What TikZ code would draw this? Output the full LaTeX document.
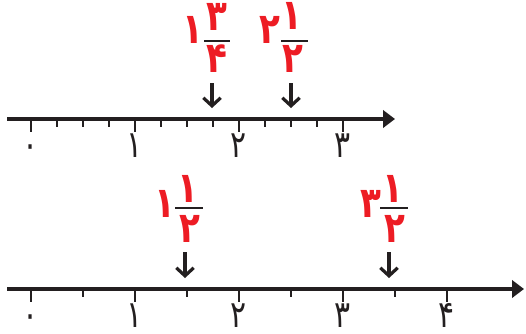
\documentclass[tikz,border=0pt]{standalone}
\usepackage{fontspec}
\usetikzlibrary{arrows.meta}
\newfontfamily\farsi[Script=Arabic,FakeStretch=0.8]{DejaVu Sans}
\definecolor{mixred}{RGB}{237,28,36}
\definecolor{inkgray}{RGB}{35,31,32}
\tikzset{
  axisline/.style={draw=inkgray,line width=3pt,-{Triangle[length=9pt,width=13pt]}},
  majortick/.style={draw=inkgray,line width=2pt},
  minortick/.style={draw=inkgray,line width=1.8pt},
  numlabel/.style={inner sep=0pt,anchor=base,text height=0.5em,text depth=0pt,text=inkgray,font=\farsi\fontsize{28}{28}\selectfont},
  mixdigit/.style={inner sep=0pt,anchor=base,text height=0.5em,text depth=0pt,text=mixred,font=\farsi\bfseries\fontsize{32}{32}\selectfont},
  fracbar/.style={draw=inkgray,line width=1.5pt},
  pointer/.style={draw=inkgray,line width=2.4pt,-{Straight Barb[length=6pt,width=13pt]}}
}
\begin{document}
\begin{tikzpicture}[x=0.75pt,y=-0.75pt]
\useasboundingbox (0,0) rectangle (526,333);
% upper number line, quarters
\coordinate (ua) at (7,119);
\coordinate (ub) at (395,119);
\draw[axisline] (ua) -- (ub);
\foreach \i in {0,...,12} \draw[minortick] ({31+26*\i},119) -- ++(0,8);
\foreach \n/\d in {0/۰,1/۱,2/۲,3/۳}{
  \draw[majortick] ({31+104*\n},119) -- ++(0,13);
  \node[numlabel] (u\n) at ({31+104*\n},157) {\d};
}
% 1 3/4
\node[mixdigit] (aw) at (193,43) {۱};
\node[mixdigit] (an) at (217,30) {۳};
\node[mixdigit] (ad) at (217,72) {۴};
\draw[fracbar] (204,41) -- (230,41);
\coordinate (as) at (212,83);
\coordinate (ae) at (212,108);
\draw[pointer] (as) -- (ae);
% 2 1/2
\node[mixdigit] (bw) at (270,43) {۲};
\node[mixdigit] (bn) at (292,29) {۱};
\node[mixdigit] (bd) at (293,72) {۲};
\draw[fracbar] (281,41) -- (308,41);
\coordinate (bs) at (291,83);
\coordinate (be) at (291,108);
\draw[pointer] (bs) -- (be);
% lower number line, halves
\coordinate (la) at (7,289);
\coordinate (lb) at (524,289);
\draw[axisline] (la) -- (lb);
\foreach \i in {0,...,8} \draw[minortick] ({31+52*\i},289) -- ++(0,8);
\foreach \n/\d in {0/۰,1/۱,2/۲,3/۳,4/۴}{
  \draw[majortick] ({31+104*\n},289) -- ++(0,13);
  \node[numlabel] (l\n) at ({31+104*\n},327) {\d};
}
% 1 1/2
\node[mixdigit] (cw) at (165,217) {۱};
\node[mixdigit] (cn) at (188,202) {۱};
\node[mixdigit] (cd) at (190,242) {۲};
\draw[fracbar] (175,208) -- (203,208);
\coordinate (cs) at (185,252);
\coordinate (ce) at (185,278);
\draw[pointer] (cs) -- (ce);
% 3 1/2
\node[mixdigit] (dw) at (371,217) {۳};
\node[mixdigit] (dn) at (393,202) {۱};
\node[mixdigit] (dd) at (395,242) {۲};
\draw[fracbar] (380,208) -- (408,208);
\coordinate (ds) at (389,252);
\coordinate (de) at (389,278);
\draw[pointer] (ds) -- (de);
\end{tikzpicture}
\end{document}
